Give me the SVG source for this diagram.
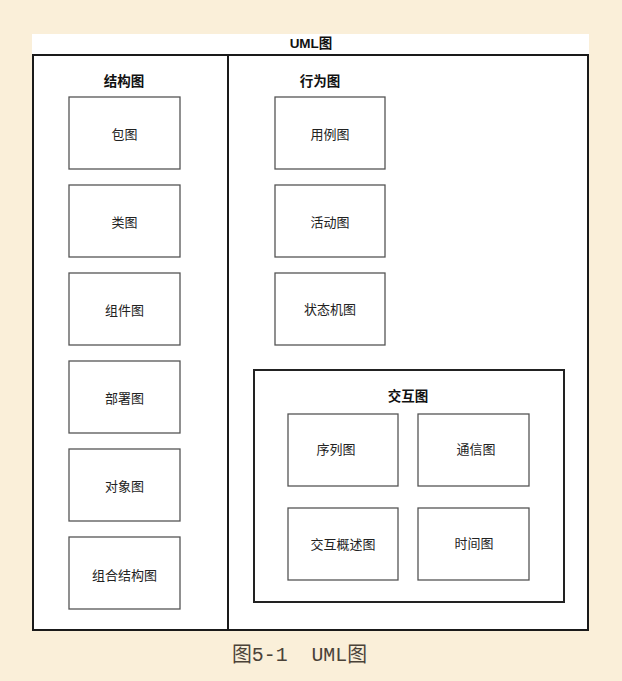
<svg xmlns="http://www.w3.org/2000/svg" width="622" height="681" viewBox="0 0 622 681">
  <style>
    .frame { fill: none; stroke: #1a1a1a; stroke-width: 2; }
    .box { fill: #ffffff; stroke: #555555; stroke-width: 1.3; }
    .group { fill: #ffffff; stroke: #222222; stroke-width: 2; }
    .label { font-family: "Noto Sans CJK SC", "Noto Sans", sans-serif; font-size: 13px; fill: #222222; text-anchor: middle; dominant-baseline: central; }
    .title { font-family: "Liberation Sans", "Noto Sans CJK SC", sans-serif; font-size: 13.5px; font-weight: bold; fill: #111111; text-anchor: middle; dominant-baseline: central; }
    .caption { font-family: "Liberation Mono", "Noto Sans CJK SC", monospace; font-size: 21px; fill: #4a4238; dominant-baseline: central; }
  </style>

  <!-- page background -->
  <rect x="0" y="0" width="622" height="681" fill="#faefd9"/>
  <!-- white drawing sheet -->
  <rect x="32" y="34" width="557" height="597" fill="#ffffff"/>

  <!-- outer frame with title -->
  <g id="uml">
    <text class="title" x="311" y="43">UML图</text>
    <rect class="frame" x="33" y="55" width="555" height="575"/>
    <line class="frame" x1="228" y1="55" x2="228" y2="630"/>
  </g>

  <!-- structure diagrams -->
  <g id="structure">
    <text class="title" x="124" y="81">结构图</text>
    <g id="package"><rect class="box" x="69" y="97" width="111" height="72"/><text class="label" x="124.5" y="133">包图</text></g>
    <g id="class"><rect class="box" x="69" y="185" width="111" height="72"/><text class="label" x="124.5" y="221">类图</text></g>
    <g id="component"><rect class="box" x="69" y="273" width="111" height="72"/><text class="label" x="124.5" y="309">组件图</text></g>
    <g id="deployment"><rect class="box" x="69" y="361" width="111" height="72"/><text class="label" x="124.5" y="397">部署图</text></g>
    <g id="object"><rect class="box" x="69" y="449" width="111" height="72"/><text class="label" x="124.5" y="485">对象图</text></g>
    <g id="composite"><rect class="box" x="69" y="537" width="111" height="72"/><text class="label" x="124.5" y="574">组合结构图</text></g>
  </g>

  <!-- behavior diagrams -->
  <g id="behavior">
    <text class="title" x="320" y="81">行为图</text>
    <g id="usecase"><rect class="box" x="275" y="97" width="110" height="72"/><text class="label" x="330" y="133">用例图</text></g>
    <g id="activity"><rect class="box" x="275" y="185" width="110" height="72"/><text class="label" x="330" y="221">活动图</text></g>
    <g id="statemachine"><rect class="box" x="275" y="273" width="110" height="72"/><text class="label" x="330" y="308">状态机图</text></g>
  </g>

  <!-- interaction diagrams -->
  <g id="interaction">
    <rect class="group" x="254" y="370" width="310" height="232"/>
    <text class="title" x="408" y="396">交互图</text>
    <g id="sequence"><rect class="box" x="288" y="414" width="110" height="72"/><text class="label" x="336" y="448">序列图</text></g>
    <g id="communication"><rect class="box" x="418" y="414" width="111" height="72"/><text class="label" x="476" y="448">通信图</text></g>
    <g id="overview"><rect class="box" x="288" y="508" width="110" height="72"/><text class="label" x="343" y="543">交互概述图</text></g>
    <g id="timing"><rect class="box" x="418" y="508" width="111" height="72"/><text class="label" x="474" y="542">时间图</text></g>
  </g>

  <!-- connectors (none) -->
  <g id="connectors"/>

  <text class="caption" x="232" y="655" textLength="135" lengthAdjust="spacingAndGlyphs" xml:space="preserve">图5-1  UML图</text>
</svg>
